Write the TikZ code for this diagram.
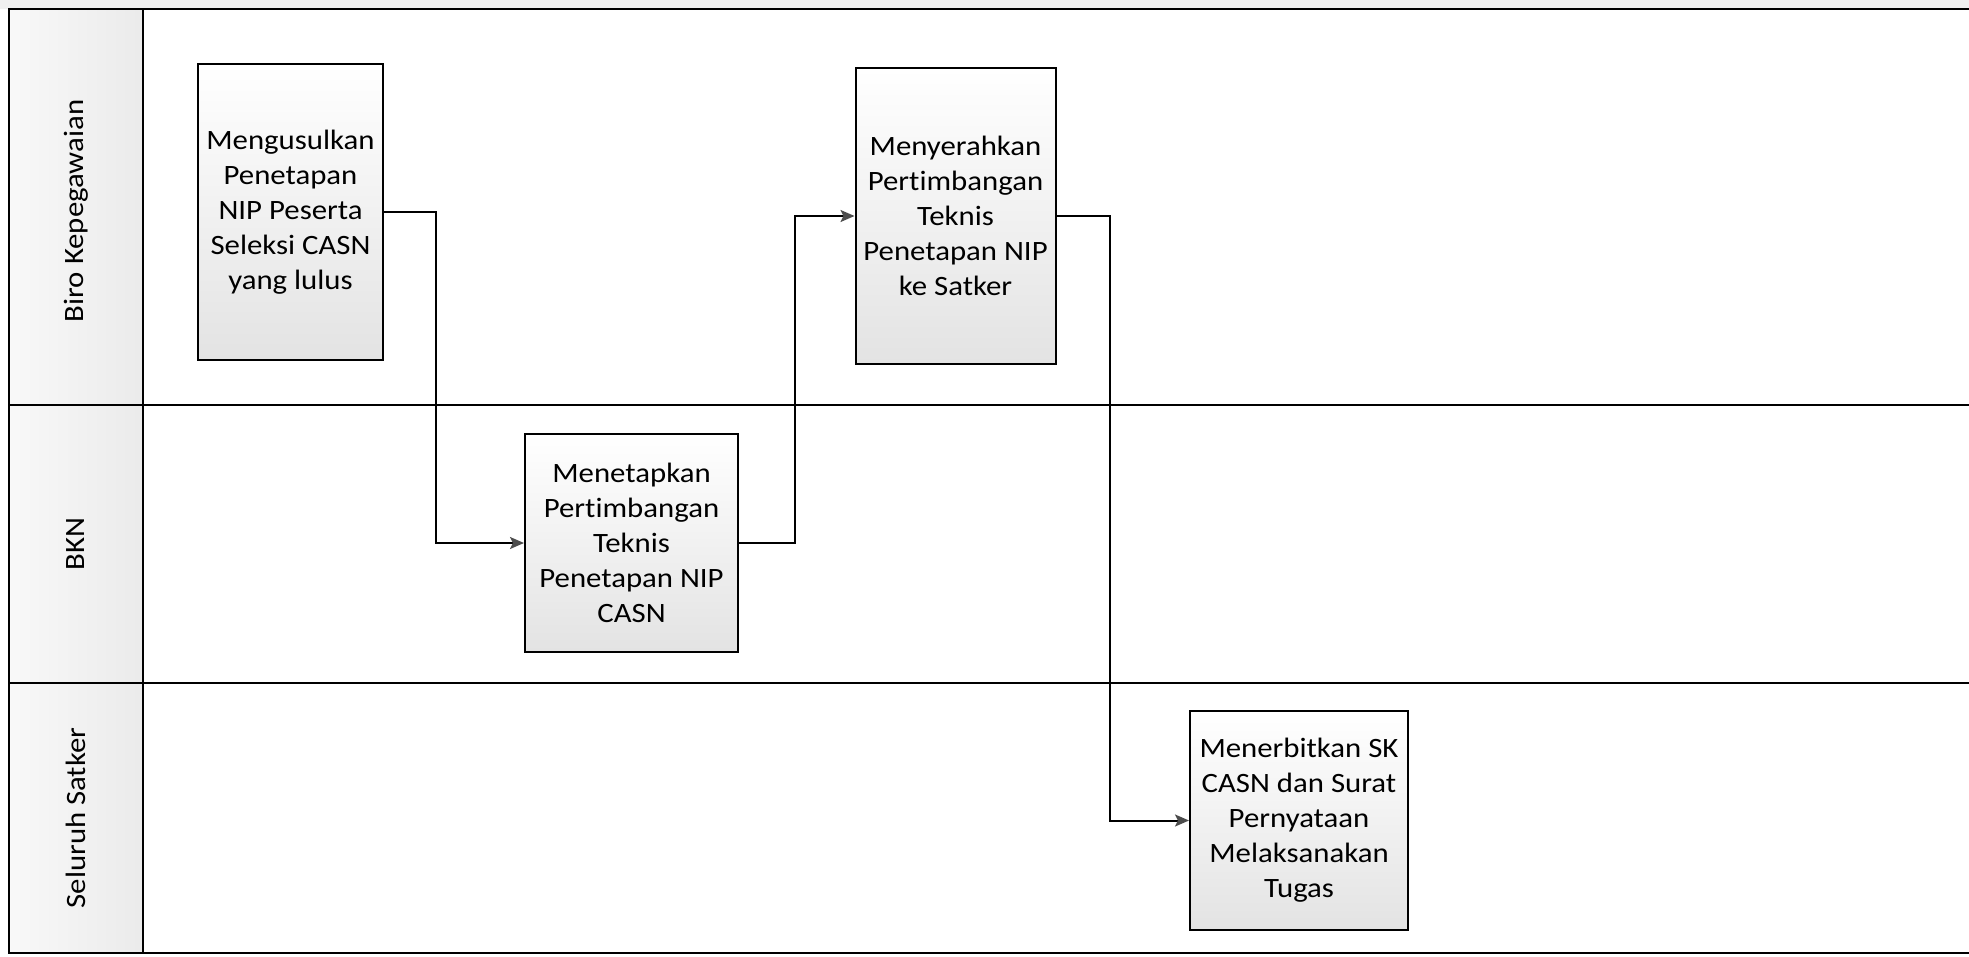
\documentclass[tikz,border=0pt]{standalone}
\usepackage{fontspec}
\setmainfont[FakeStretch=1.1,Ligatures={NoCommon}]{Carlito}
\usetikzlibrary{arrows.meta}
\tikzset{
  px/.style={x=0.5pt,y=-0.5pt},
  lanehead/.style={left color=gray!5,right color=gray!16,draw=black,line width=1.1pt},
  lanetext/.style={rotate=90,font=\fontsize{14}{17}\selectfont},
  procbox/.style={draw=black,line width=1pt,top color=white,bottom color=gray!22,align=center,
    font=\fontsize{14}{17.5}\selectfont,inner sep=0pt},
  flow/.style={line width=1pt,draw=black,-{Stealth[length=7pt,width=6pt,inset=1.5pt,color=gray!60!black,fill=gray!60!black]}},
  laneline/.style={line width=1.2pt,draw=black}
}
\begin{document}
\begin{tikzpicture}[px]
\useasboundingbox (0,0) rectangle (1969,957);
\fill[gray!12] (0,0) rectangle (1969,9);
\fill[white] (0,9) rectangle (1969,957);
% lane headers
\draw[lanehead] (9,9) rectangle (143,405);
\draw[lanehead] (9,405) rectangle (143,683);
\draw[lanehead] (9,683) rectangle (143,953);
\node[lanetext] (l1) at (76,211) {Biro Kepegawaian};
\node[lanetext] (l2) at (76,544) {BKN};
\node[lanetext] (l3) at (76,818) {Seluruh Satker};
% lane lines
\draw[laneline] (9,9) -- (1969,9);
\draw[laneline] (143,405) -- (1969,405);
\draw[laneline] (143,683) -- (1969,683);
\draw[laneline] (9,953) -- (1969,953);
% boxes
\node[procbox,minimum width=92.5pt,minimum height=148pt] (b1) at (290.5,212)
  {Mengusulkan\\Penetapan\\NIP Peserta\\Seleksi CASN\\yang lulus};
\node[procbox,minimum width=106.5pt,minimum height=109pt] (b2) at (631.5,543)
  {Menetapkan\\Pertimbangan\\Teknis\\Penetapan NIP\\CASN};
\node[procbox,minimum width=100pt,minimum height=148pt] (b3) at (955.5,216)
  {Menyerahkan\\Pertimbangan\\Teknis\\Penetapan NIP\\ke Satker};
\node[procbox,minimum width=109pt,minimum height=109.5pt] (b4) at (1299,820.5)
  {Menerbitkan SK\\CASN dan Surat\\Pernyataan\\Melaksanakan\\Tugas};
% connectors
\draw[flow] (b1.east) -- ++(52,0) |- (b2.west);
\draw[flow] (b2.east) -- ++(56,0) |- (b3.west);
\draw[flow] (b3.east) -- ++(53,0) |- (b4.west);
\end{tikzpicture}
\end{document}
